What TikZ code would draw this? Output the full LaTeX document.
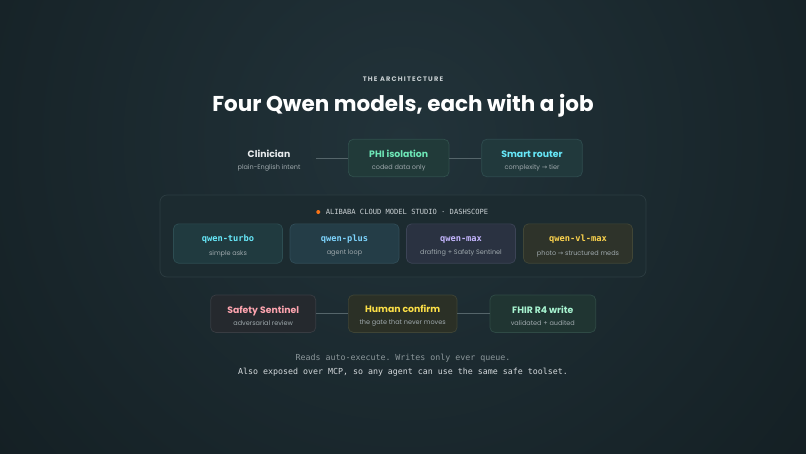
\documentclass[tikz,border=0pt]{standalone}
\usepackage{fontspec}
\setmainfont{Poppins}
\setmonofont{DejaVu Sans Mono}
\newfontfamily\arrowfont{DejaVu Sans}
\usetikzlibrary{positioning}

\definecolor{bgout}{HTML}{131E22}
\definecolor{bgin}{HTML}{22333A}
\definecolor{wire}{HTML}{55656A}
\definecolor{subtext}{HTML}{9FA9AD}
\definecolor{clintext}{HTML}{E9ECEE}
\definecolor{eyebrow}{HTML}{C9D0D3}
\definecolor{footone}{HTML}{8C979B}
\definecolor{foottwo}{HTML}{D4D9DC}
\definecolor{dotorange}{HTML}{F97316}
\definecolor{mint}{HTML}{6EE7B7}
\definecolor{cyan}{HTML}{67E8F9}
\definecolor{sky}{HTML}{7DD3FC}
\definecolor{lavender}{HTML}{C4B5FD}
\definecolor{amber}{HTML}{FCD34D}
\definecolor{rose}{HTML}{FDA4AF}
\definecolor{lemon}{HTML}{FDE047}
\definecolor{palemint}{HTML}{A7F3D0}
\definecolor{studiofill}{HTML}{1C2B30}
\definecolor{studiodraw}{HTML}{2C3C41}

\tikzset{
  card/.style={draw=#1draw, fill=#1fill, rounded corners=5pt, line width=0.7pt,
    minimum height=37.4pt, inner sep=0pt, align=center},
  model/.style={card=#1, minimum width=109pt, minimum height=39.3pt},
  wirestyle/.style={wire, line width=0.9pt},
}
\definecolor{phidraw}{HTML}{30504C}     \definecolor{phifill}{HTML}{213A39}
\definecolor{routerdraw}{HTML}{2F4C4F}  \definecolor{routerfill}{HTML}{21393C}
\definecolor{turbodraw}{HTML}{2D4D52}   \definecolor{turbofill}{HTML}{203A3F}
\definecolor{plusdraw}{HTML}{314D58}    \definecolor{plusfill}{HTML}{243D47}
\definecolor{maxdraw}{HTML}{3C4456}     \definecolor{maxfill}{HTML}{2A3241}
\definecolor{vldraw}{HTML}{414636}      \definecolor{vlfill}{HTML}{2E332A}
\definecolor{sentineldraw}{HTML}{383C42} \definecolor{sentinelfill}{HTML}{25292E}
\definecolor{humandraw}{HTML}{3F4435}   \definecolor{humanfill}{HTML}{2B3026}
\definecolor{fhirdraw}{HTML}{2F4A45}    \definecolor{fhirfill}{HTML}{203532}

\newcommand{\cardtext}[3]{{\rule{0pt}{12pt}\fontsize{9.3}{11}\selectfont\bfseries\color{#1}#2}\\[0.2pt]{\fontsize{6.5}{8}\selectfont\color{subtext}#3}}
\newcommand{\modeltext}[3]{{\rule{0pt}{11.5pt}\fontsize{8.7}{10}\selectfont\ttfamily\bfseries\color{#1}#2}\\[1.2pt]{\fontsize{6.5}{8}\selectfont\color{subtext}#3}}

\begin{document}
\begin{tikzpicture}[x=1pt,y=-1pt]
  \useasboundingbox (0,0) rectangle (806,453);
  % background
  \begin{scope}[overlay]
    \fill[bgout] (-3,-3) rectangle (809,456);
    \clip (-3,-3) rectangle (809,456);
    \shade[inner color=bgin, outer color=bgout] (403,140) circle (560);
  \end{scope}

  % heading
  \node (eyebrow) at (403,79) {\fontsize{6.6}{8}\selectfont\bfseries\addfontfeature{LetterSpace=18}\color{eyebrow}THE ARCHITECTURE};
  \node (title) at (403,105.5) {\fontsize{21.5}{25}\selectfont\bfseries\color{white}Four Qwen models, each with a job};

  % top row
  \node[align=center, minimum width=94pt, inner sep=0pt] (clinician) at (269,158)
    {\cardtext{clintext}{Clinician}{plain-English intent}};
  \node[card=phi, minimum width=100.7pt] (phi) at (398.7,158)
    {\cardtext{mint}{PHI isolation}{coded data only}};
  \node[card=router, minimum width=100.6pt] (router) at (532,158)
    {\cardtext{cyan}{Smart router}{complexity {\arrowfont →} tier}};
  \draw[wirestyle] (clinician) -- (phi);
  \draw[wirestyle] (phi) -- (router);

  % model studio
  \node[draw=studiodraw, fill=studiofill, rounded corners=7pt, line width=0.7pt,
    minimum width=486pt, minimum height=82pt] (studio) at (403,236) {};
  \node (studiohead) at (407,212)
    {\fontsize{7.1}{9}\selectfont\ttfamily\color{eyebrow}ALIBABA CLOUD MODEL STUDIO · DASHSCOPE};
  \fill[dotorange] ([xshift=-4pt]studiohead.west) circle (2pt);
  \node[model=turbo] (turbo) at (228,243.5) {\modeltext{cyan}{qwen-turbo}{simple asks}};
  \node[model=plus]  (plus)  at (344.5,243.5) {\modeltext{sky}{qwen-plus}{agent loop}};
  \node[model=max]   (max)   at (461,243.5) {\modeltext{lavender}{qwen-max}{drafting + Safety Sentinel}};
  \node[model=vl]    (vl)    at (578,243.5) {\modeltext{amber}{qwen-vl-max}{photo {\arrowfont →} structured meds}};

  % bottom row
  \node[card=sentinel, minimum width=105pt] (sentinel) at (263.2,313.7)
    {\cardtext{rose}{Safety Sentinel}{adversarial review}};
  \node[card=human, minimum width=108.7pt] (human) at (402.7,313.7)
    {\cardtext{lemon}{Human confirm}{the gate that never moves}};
  \node[card=fhir, minimum width=105.7pt] (fhir) at (542.8,313.7)
    {\cardtext{palemint}{FHIR R4 write}{validated + audited}};
  \draw[wirestyle] (sentinel) -- (human);
  \draw[wirestyle] (human) -- (fhir);

  % footnotes
  \node (footA) at (403,358.5) {\fontsize{8.3}{10}\selectfont\ttfamily\color{footone}Reads auto-execute. Writes only ever queue.};
  \node (footB) at (403,372.5) {\fontsize{8.3}{10}\selectfont\ttfamily\color{foottwo}Also exposed over MCP, so any agent can use the same safe toolset.};
\end{tikzpicture}
\end{document}
